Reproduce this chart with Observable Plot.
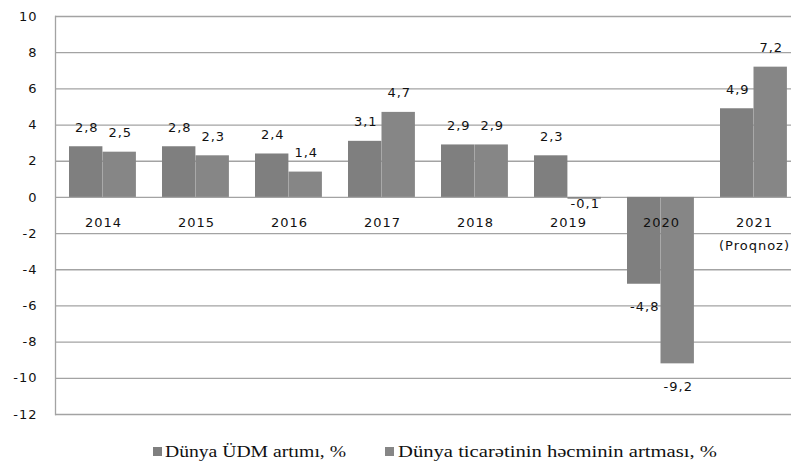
<!DOCTYPE html>
<html>
<head>
<meta charset="utf-8">
<script src="https://cdn.jsdelivr.net/npm/d3@7"></script>
<script src="https://cdn.jsdelivr.net/npm/@observablehq/plot@0.6"></script>
<style>
  html, body { margin: 0; padding: 0; background: #fff; overflow: hidden; }
  svg { display: block; }
</style>
</head>
<body>
<div id="chart"></div>
<script>
const years = ["2014", "2015", "2016", "2017", "2018", "2019", "2020", "2021"];
const yearLabels = ["2014", "2015", "2016", "2017", "2018", "2019", "2020", "2021\n(Proqnoz)"];
const gdpGrowth = [2.8, 2.8, 2.4, 3.1, 2.9, 2.3, -4.8, 4.9];
const tradeGrowth = [2.5, 2.3, 1.4, 4.7, 2.9, -0.1, -9.2, 7.2];
const seriesNames = ["Dünya ÜDM artımı, %", "Dünya ticarətinin həcminin artması, %"];
const seriesColors = ["#7f7f7f", "#868686"];
const yTicks = [-12, -10, -8, -6, -4, -2, 0, 2, 4, 6, 8, 10];

const fmt = v => String(v).replace(".", ",");
const gdp = years.map((y, i) => ({year: y, value: gdpGrowth[i]}));
const trade = years.map((y, i) => ({year: y, value: tradeGrowth[i]}));
const yearRows = years.map((y, i) => ({year: y, label: yearLabels[i], zero: 0}));

function labels(data, dx) {
  const common = {x: "year", y: "value", text: d => fmt(d.value), dx, fontSize: 13, fill: "#111"};
  return [
    Plot.text(data.filter(d => d.value >= 0), {...common, lineAnchor: "bottom", dy: -15}),
    Plot.text(data.filter(d => d.value < 0 && d.value > -1), {...common, lineAnchor: "top", dy: 0}),
    Plot.text(data.filter(d => d.value <= -1), {...common, lineAnchor: "top", dy: 17.5})
  ];
}

const chart = Plot.plot({
  width: 791,
  height: 426,
  marginTop: 16,
  marginBottom: 12,
  marginLeft: 55,
  marginRight: -9,
  style: {fontFamily: "DejaVu Sans, Verdana, sans-serif", fontSize: "13px", letterSpacing: "1px", color: "#111", background: "#fff"},
  x: {domain: years, padding: 0, axis: null},
  y: {domain: [-12, 10], ticks: yTicks, tickSize: 0, tickPadding: 18, tickFormat: d => String(d), label: null},
  marks: [
    Plot.ruleY(yTicks, {stroke: "#a3a3a3", strokeWidth: 1.3}),
    Plot.frame({anchor: "left", stroke: "#a3a3a3", strokeWidth: 1.3}),
    Plot.barY(gdp, {x: "year", y: "value", fill: seriesColors[0], insetLeft: 13, insetRight: 46.6}),
    Plot.barY(trade, {x: "year", y: "value", fill: seriesColors[1], insetLeft: 46.5, insetRight: 13.1}),
    ...labels(gdp, -16.25),
    ...labels(trade, 17.25),
    Plot.text(yearRows, {x: "year", y: "zero", text: "label", lineAnchor: "top", dy: 13, dx: 0.5, lineHeight: 1.8, fontSize: 13, fill: "#111"})
  ]
});
document.getElementById("chart").appendChild(chart);

// Legend (below the plot)
const legendLayout = [
  {sw: 153, tx: 165, len: 181},
  {sw: 385, tx: 398, len: 319}
];
const ns = "http://www.w3.org/2000/svg";
const lg = document.createElementNS(ns, "svg");
lg.setAttribute("width", 791);
lg.setAttribute("height", 40);
seriesNames.forEach((n, i) => {
  const L = legendLayout[i];
  const r = document.createElementNS(ns, "rect");
  r.setAttribute("x", L.sw); r.setAttribute("y", 21);
  r.setAttribute("width", 9); r.setAttribute("height", 9);
  r.setAttribute("fill", seriesColors[i]);
  lg.appendChild(r);
  const t = document.createElementNS(ns, "text");
  t.setAttribute("x", L.tx); t.setAttribute("y", 31);
  t.setAttribute("textLength", L.len);
  t.setAttribute("lengthAdjust", "spacingAndGlyphs");
  t.setAttribute("font-family", "Liberation Serif, Times New Roman, serif");
  t.setAttribute("font-size", 16);
  t.setAttribute("fill", "#111");
  t.textContent = n;
  lg.appendChild(t);
});
document.body.appendChild(lg);
</script>
</body>
</html>
